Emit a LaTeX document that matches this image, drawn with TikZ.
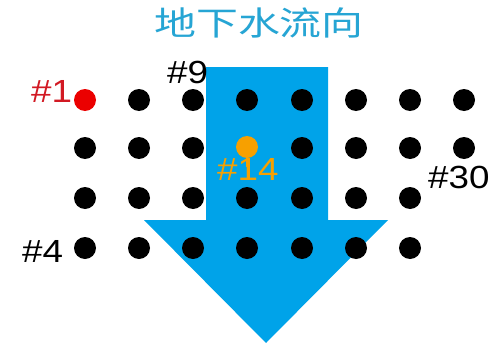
\documentclass[tikz,border=0pt]{standalone}
\usepackage{fontspec}
\setmainfont{Liberation Sans}
\newfontfamily\cjkfont{Noto Sans CJK SC}
\definecolor{arrowblue}{RGB}{0,163,233}
\definecolor{titleblue}{RGB}{38,165,212}
\definecolor{dotred}{RGB}{235,0,0}
\definecolor{lblred}{RGB}{210,25,35}
\definecolor{dotorange}{RGB}{247,160,0}
\newcommand\stretchlbl[1]{\scalebox{1.15}[1]{#1}}
\tikzset{
  well/.style={circle,fill=black,inner sep=0pt,minimum size=22pt},
  lbl/.style={inner sep=0pt,anchor=base west,font=\fontsize{32}{36}\selectfont},
  flowarrow/.style={fill=arrowblue,draw=none}
}
\begin{document}
\begin{tikzpicture}[x=1pt,y=-1pt]
\useasboundingbox (0,0) rectangle (496,343);
\fill[white] (0,0) rectangle (496,343);
% title
\node[inner sep=0pt,text=titleblue] (title) at (259,23)
  {\scalebox{1.27}[1]{\cjkfont\fontsize{33}{36}\selectfont 地下水流向}};
% arrow
\fill[flowarrow] (206,67) -- (328,67) -- (328,220) -- (388,220) -- (266,343)
  -- (144,220) -- (206,220) -- cycle;
% wells, numbered column by column
\foreach \c/\x in {1/85,2/139,3/193,4/247,5/302,6/356,7/410,8/464}{
  \foreach \r/\y in {1/100,2/148,3/198,4/248}{
    \pgfmathtruncatemacro\n{(\c-1)*4+\r}
    \ifnum\n<31
      \ifnum\n=1\relax
        \node[well,fill=dotred,minimum size=22pt] (w\n) at (\x,\y) {};
      \else\ifnum\n=14\relax
        \draw[dotorange,line width=2pt] (\x,\y) -- (\x,\y+19);
        \node[well,fill=dotorange] (w\n) at (\x,\y-1) {};
      \else
        \node[well] (w\n) at (\x,\y) {};
      \fi\fi
    \fi
  }
}
% labels
\node[lbl,text=lblred] (l1) at (31,102) {\stretchlbl{\#1}};
\node[lbl] (l9) at (167,83) {\stretchlbl{\#9}};
\node[lbl,text=dotorange] (l14) at (217,180) {\stretchlbl{\#14}};
\node[lbl] (l30) at (428,188) {\stretchlbl{\#30}};
\node[lbl] (l4) at (22,262) {\stretchlbl{\#4}};
\end{tikzpicture}
\end{document}
